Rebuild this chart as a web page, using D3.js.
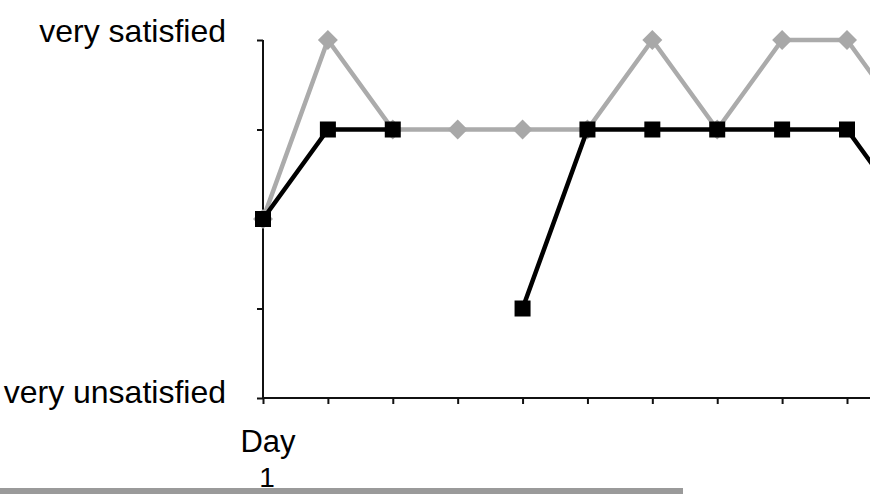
<!DOCTYPE html>
<html>
<head>
<meta charset="utf-8">
<script src="https://cdn.jsdelivr.net/npm/d3@7"></script>
<style>
  html, body { margin: 0; padding: 0; background: #fff; overflow: hidden; }
  svg { display: block; }
  text { font-family: "Liberation Sans", Arial, sans-serif; fill: #000; }
</style>
</head>
<body>
<svg id="chart" width="870" height="494"></svg>
<script>
// ---- data ----
const days = [1, 2, 3, 4, 5, 6, 7, 8, 9, 10, 11];
const levelTicks = [1, 2, 3, 4, 5];
const levelLabels = { 1: "very unsatisfied", 5: "very satisfied" };
const grayValues = [3, 5, 4, 4, 4, 4, 5, 4, 5, 5, 4];
const blackValues = [3, 4, 4, null, 2, 4, 4, 4, 4, 4, 3];
const xTitle = "Day";
const xTickLabels = { 1: "1" };

// ---- layout ----
const W = 870, H = 494;
const svg = d3.select("#chart");

const x = d3.scaleLinear().domain([1, 10]).range([263, 847]);
const y = d3.scaleLinear().domain([1, 5]).range([398, 40]);

// bottom gray bar
svg.append("rect")
  .attr("x", 0).attr("y", 488).attr("width", 683).attr("height", 6)
  .attr("fill", "#9a9a9a");

// axes
const xAxis = d3.axisBottom(x).tickValues(days.filter(d => x(d) <= W)).tickSize(6).tickFormat("");
const gx = svg.append("g").attr("transform", `translate(0,${y(1)})`).call(xAxis);
gx.select(".domain").attr("d", `M${x(1)},0H${W + 10}`);
gx.selectAll("path, line").attr("stroke", "#111").attr("stroke-width", 2);

const yAxis = d3.axisLeft(y).tickValues(levelTicks).tickSize(6).tickFormat("");
const gy = svg.append("g").attr("transform", `translate(${x(1)},0)`).call(yAxis);
gy.select(".domain").attr("d", `M0,${y(5)}V${y(1)}`);
gy.selectAll("path, line").attr("stroke", "#111").attr("stroke-width", 2);

// y labels
svg.selectAll(".ylab")
  .data(levelTicks.filter(v => levelLabels[v]))
  .enter().append("text")
  .attr("class", "ylab")
  .attr("x", 226)
  .attr("y", d => y(d) + (d === 5 ? 2 : 5))
  .attr("text-anchor", "end")
  .attr("font-size", 32)
  .text(d => levelLabels[d]);

// x title and tick label
svg.append("text")
  .attr("x", x(1) + 5).attr("y", 452)
  .attr("text-anchor", "middle").attr("font-size", 31)
  .text(xTitle);
svg.selectAll(".xlab")
  .data(days.filter(d => xTickLabels[d]))
  .enter().append("text")
  .attr("class", "xlab")
  .attr("x", d => x(d) + 4).attr("y", 487)
  .attr("text-anchor", "middle").attr("font-size", 28)
  .text(d => xTickLabels[d]);

// lines
const grayData = days.map((d, i) => ({ d, v: grayValues[i] }));
const blackData = days.map((d, i) => ({ d, v: blackValues[i] }));

const line = d3.line()
  .defined(p => p.v !== null)
  .x(p => x(p.d)).y(p => y(p.v));

svg.append("path").datum(grayData)
  .attr("d", line).attr("fill", "none")
  .attr("stroke", "#ababab").attr("stroke-width", 4.5).attr("stroke-linejoin", "miter");

svg.selectAll(".diamond").data(grayData.filter(p => p.v !== null))
  .enter().append("path").attr("class", "diamond")
  .attr("transform", p => `translate(${x(p.d)},${y(p.v)})`)
  .attr("d", "M0,-10L10,0L0,10L-10,0Z")
  .attr("fill", "#a8a8a8");

svg.append("path").datum(blackData)
  .attr("d", line).attr("fill", "none")
  .attr("stroke", "#000").attr("stroke-width", 4.5);

svg.selectAll(".square").data(blackData.filter(p => p.v !== null))
  .enter().append("rect").attr("class", "square")
  .attr("x", p => x(p.d) - 8).attr("y", p => y(p.v) - 8)
  .attr("width", 16).attr("height", 16)
  .attr("fill", "#000");
</script>
</body>
</html>
